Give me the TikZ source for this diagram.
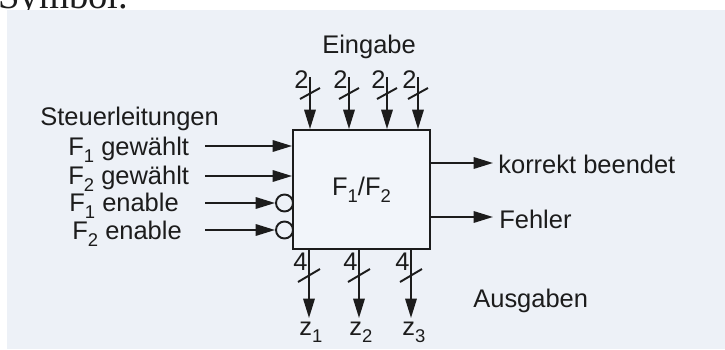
\documentclass[tikz,border=0pt]{standalone}
\usepackage{fontspec}
\setmainfont{Liberation Sans}
\newfontfamily\pagefont{Liberation Serif}
\usetikzlibrary{arrows.meta}
\definecolor{ink}{HTML}{1C1C1C}
\definecolor{paper}{HTML}{EDF1F7}
\definecolor{boxfill}{HTML}{F2F5FA}
\newcommand{\subidx}[1]{\raisebox{-0.28em}{\fontsize{10.5pt}{12pt}\selectfont #1}}

\begin{document}
\begin{tikzpicture}[x=0.02cm,y=-0.02cm,font=\fontsize{14.5pt}{17pt}\selectfont,text=ink,
    >={Triangle[length=11pt,width=6.5pt]},
    wire/.style={draw=ink,line width=1.1pt},
    bus/.style={wire,->},
    lbl/.style={inner sep=0pt,anchor=base west},
    buswidth/.style={inner sep=0pt,anchor=base east},
    invert/.style={wire,circle,inner sep=0pt,minimum size=0.34cm}]
  \useasboundingbox (0,0) rectangle (725,349);
  \node[lbl] (sym) at (-2,8) {\pagefont\fontsize{22pt}{26pt}\selectfont Symbol.};
  \fill[paper] (7,10) rectangle (725,349);
  \node[wire,fill=boxfill,minimum width=2.74cm,minimum height=2.38cm] (fx) at (361.5,189.5)
    {F\subidx{1}/F\subidx{2}};
  % Eingabe
  \node[lbl] (ein) at (322,53) {Eingabe};
  \coordinate (e1) at (310,77); \coordinate (e2) at (349,77);
  \coordinate (e3) at (387,77); \coordinate (e4) at (418,77);
  \draw[bus] (e1) -- (e1 |- fx.north);
  \draw[bus] (e2) -- (e2 |- fx.north);
  \draw[bus] (e3) -- (e3 |- fx.north);
  \draw[bus] (e4) -- (e4 |- fx.north);
  \draw[wire] (300,99) -- (320,88); \draw[wire] (339,99) -- (359,88);
  \draw[wire] (377,99) -- (397,88); \draw[wire] (408,99) -- (428,88);
  \node[buswidth] (w1) at (309,88) {2}; \node[buswidth] (w2) at (348,88) {2};
  \node[buswidth] (w3) at (386,88) {2}; \node[buswidth] (w4) at (417,88) {2};
  % Steuerleitungen
  \node[lbl] (steu) at (40,125) {Steuerleitungen};
  \node[lbl] (g1) at (68,155) {F\subidx{1} gewählt};
  \node[lbl] (g2) at (68,184) {F\subidx{2} gewählt};
  \node[lbl] (en1) at (69,211) {F\subidx{1} enable};
  \node[lbl] (en2) at (72,239) {F\subidx{2} enable};
  \coordinate (s1) at (205,146); \coordinate (s2) at (205,176);
  \coordinate (s3) at (205,203); \coordinate (s4) at (205,230);
  \node[invert] (c1) at (284.5,203) {}; \node[invert] (c2) at (284.5,230) {};
  \draw[bus] (s1) -- (s1 -| fx.west);
  \draw[bus] (s2) -- (s2 -| fx.west);
  \draw[bus] (s3) -- (c1.west);
  \draw[bus] (s4) -- (c2.west);
  % Meldungen
  \coordinate (ok) at (493,163); \coordinate (err) at (493,217);
  \draw[bus] (ok -| fx.east) -- (ok);
  \draw[bus] (err -| fx.east) -- (err);
  \node[lbl] (okl) at (498,173) {korrekt beendet};
  \node[lbl] (errl) at (499,228) {Fehler};
  % Ausgaben
  \coordinate (z1) at (309,318); \coordinate (z2) at (359,318); \coordinate (z3) at (411,318);
  \draw[bus] (z1 |- fx.south) -- (z1);
  \draw[bus] (z2 |- fx.south) -- (z2);
  \draw[bus] (z3 |- fx.south) -- (z3);
  \draw[wire] (298,282) -- (320,269); \draw[wire] (348,282) -- (370,269);
  \draw[wire] (400,282) -- (422,269);
  \node[buswidth] (v1) at (308,270) {4}; \node[buswidth] (v2) at (358,270) {4};
  \node[buswidth] (v3) at (410,270) {4};
  \node[lbl] (zl1) at (299,335) {z\subidx{1}};
  \node[lbl] (zl2) at (349,335) {z\subidx{2}};
  \node[lbl] (zl3) at (402,335) {z\subidx{3}};
  \node[lbl] (aus) at (473,307) {Ausgaben};
\end{tikzpicture}
\end{document}
